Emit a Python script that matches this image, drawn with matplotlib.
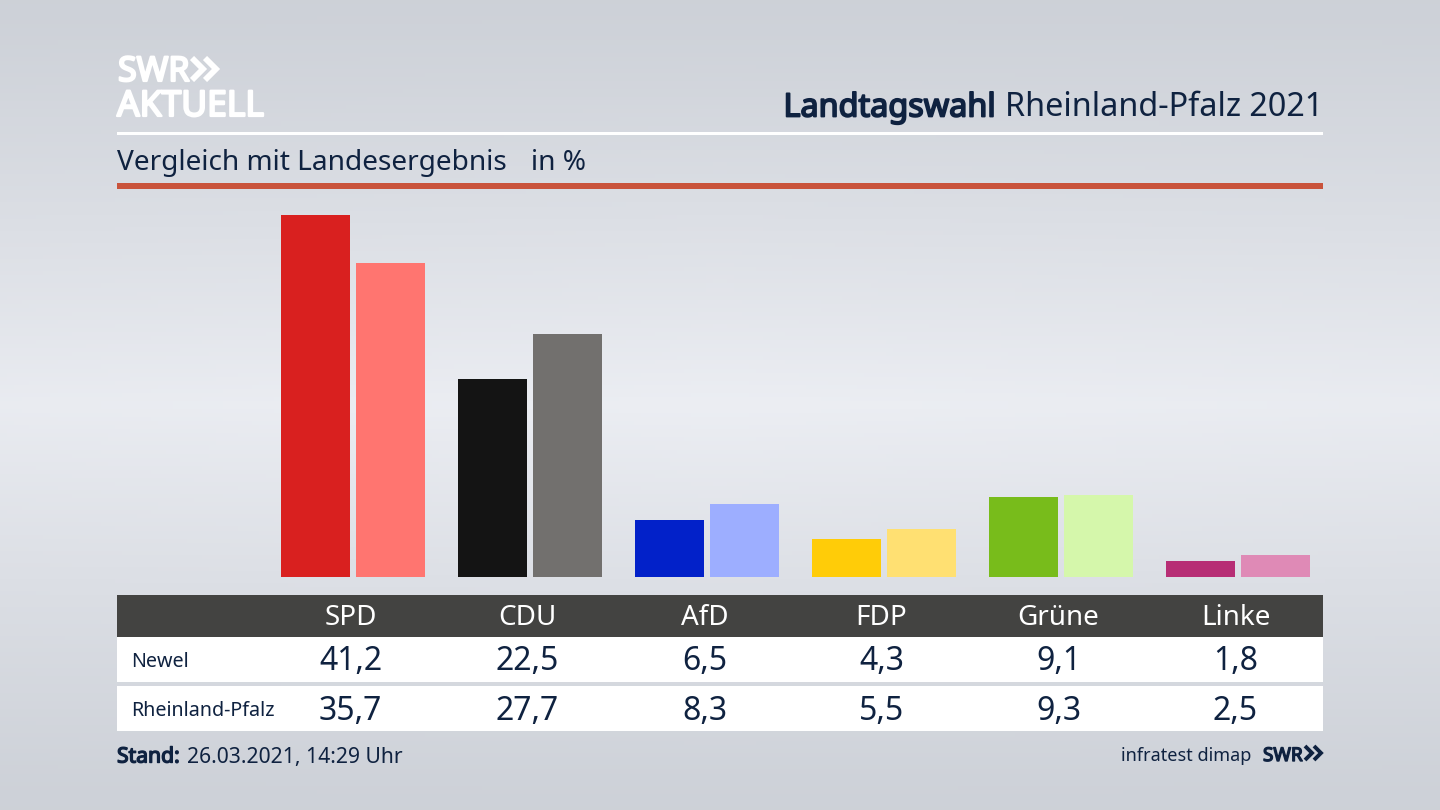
import numpy as np
import matplotlib
matplotlib.use("Agg")
import matplotlib.pyplot as plt
import matplotlib.patheffects as pe
from matplotlib.patches import Rectangle

parteien = ["SPD", "CDU", "AfD", "FDP", "Grüne", "Linke"]
newel = [41.2, 22.5, 6.5, 4.3, 9.1, 1.8]
landesergebnis = [35.7, 27.7, 8.3, 5.5, 9.3, 2.5]
newel_labels = ["41,2", "22,5", "6,5", "4,3", "9,1", "1,8"]
land_labels = ["35,7", "27,7", "8,3", "5,5", "9,3", "2,5"]
farben_newel = ["#d9201f", "#141414", "#0221c9", "#ffcc08", "#78bc1b", "#b72e75"]
farben_land = ["#ff7570", "#72706e", "#9daeff", "#ffe072", "#d5f7ab", "#df8ab6"]

DUNKEL = "#0f2240"
plt.rcParams["font.family"] = ["Noto Sans", "DejaVu Sans"]

B, H = 1440, 810
fig = plt.figure(figsize=(14.4, 8.1), dpi=100)

# Background and decoration layer, in pixel coordinates
bg = fig.add_axes([0, 0, 1, 1])
bg.set_xlim(0, B)
bg.set_ylim(H, 0)
bg.axis("off")

# Background gradient: light band in the middle, greyer at the edges
yy, xx = np.mgrid[0:1:200j, 0:1:200j]
hell = 1 - np.abs(yy - 0.5) * 2
hell = hell * (0.93 + 0.07 * (1 - np.abs(xx - 0.5) * 2))
oben = np.array([0.805, 0.820, 0.847])
mitte = np.array([0.925, 0.933, 0.953])
verlauf = oben + (mitte - oben) * hell[..., None] ** 1.15
bg.imshow(verlauf, extent=(0, B, H, 0), aspect="auto", zorder=0)


def rechteck(x0, y0, x1, y1, farbe):
    bg.add_patch(Rectangle((x0, y0), x1 - x0, y1 - y0, color=farbe, lw=0, zorder=1))


def text(x, y, s, farbe=DUNKEL, groesse=16, fett=0, ha="left"):
    # Noto Sans has no bold face here, so bold is a stroke around the glyphs
    t = bg.text(x, y, s, color=farbe, fontsize=groesse, ha=ha, va="center", zorder=2)
    if fett:
        t.set_path_effects([pe.withStroke(linewidth=fett, foreground=farbe)])
    return t


# Logo
text(118, 72, "SWR", "white", 24.5, 1.6)
text(117, 107, "AKTUELL", "white", 25.5, 1.6)
for x_start in (192, 205):
    bg.plot([x_start, x_start + 11, x_start], [58, 69, 80], color="white", lw=4.2,
            solid_joinstyle="miter", solid_capstyle="butt", zorder=2)

# Title row
titel_rest = text(1323, 108, "Rheinland-Pfalz 2021", groesse=23.3, ha="right")
fig.canvas.draw()
links = bg.transData.inverted().transform(titel_rest.get_window_extent().get_points())[0][0]
text(links - 9, 108, "Landtagswahl", groesse=23.3, fett=1.3, ha="right")
rechteck(117, 132, 1323, 135, "white")
text(117, 163, "Vergleich mit Landesergebnis", groesse=20.2)
text(531, 163, "in %", groesse=20.2)
rechteck(117, 183, 1323, 189, "#c9533b")

# Table
rechteck(117, 595, 1323, 637, "#434341")
rechteck(117, 637, 1323, 682, "white")
rechteck(117, 686, 1323, 731, "white")
text(131, 662, "Newel", groesse=14.2)
text(131, 711, "Rheinland-Pfalz", groesse=14.2)
spalten = 350.5 + 177 * np.arange(len(parteien))
for x, name, a, b in zip(spalten, parteien, newel_labels, land_labels):
    text(x, 618, name, "white", 20, ha="center")
    text(x, 662, a, groesse=23, ha="center")
    text(x, 711, b, groesse=23, ha="center")

# Footer
text(117, 757, "Stand:", groesse=15.2, fett=1.0)
text(187, 757, "26.03.2021, 14:29 Uhr", groesse=15.2)
text(1251, 756, "infratest dimap", groesse=13, ha="right")
text(1263, 756, "SWR", groesse=13.6, fett=1.0)
for x_start in (1305, 1314):
    bg.plot([x_start, x_start + 7, x_start], [746, 753, 760], color=DUNKEL, lw=2.8,
            solid_joinstyle="miter", solid_capstyle="butt", zorder=2)

# Bars on their own axes: 177 px per party, 8.79 px per percent
PX_SPALTE = 177
PX_PROZENT = 8.79
MITTE_SPD = 353
ax_links, ax_rechts, ax_oben, ax_unten = 262, 1323, 189, 577
ax = fig.add_axes([ax_links / B, 1 - ax_unten / H, (ax_rechts - ax_links) / B, (ax_unten - ax_oben) / H])
ax.patch.set_alpha(0)
ax.set_xlim((ax_links - MITTE_SPD) / PX_SPALTE, (ax_rechts - MITTE_SPD) / PX_SPALTE)
ax.set_ylim(0, (ax_unten - ax_oben) / PX_PROZENT)
ax.axis("off")
pos = np.arange(len(parteien))
breite = 69 / PX_SPALTE
versatz = 37.5 / PX_SPALTE
ax.bar(pos - versatz, newel, breite, color=farben_newel)
ax.bar(pos + versatz, landesergebnis, breite, color=farben_land)

fig.savefig("out.png", dpi=100)
